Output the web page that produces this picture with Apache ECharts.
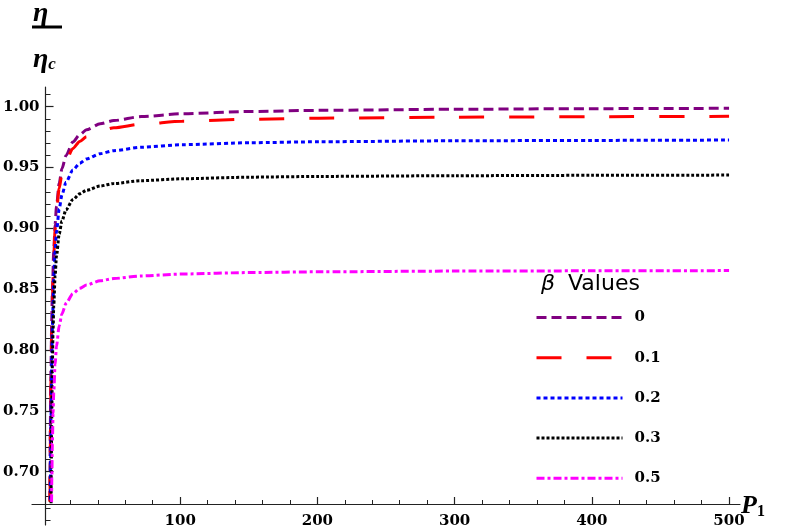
<!DOCTYPE html>
<html><head><meta charset="utf-8">
<script src="https://cdn.jsdelivr.net/npm/echarts@6/dist/echarts.min.js"></script>
<style>html,body{margin:0;padding:0;background:#fff}#c{width:789px;height:530px}</style>
</head><body><div id="c"></div>
<script>
const betaLabels = ['0', '0.1', '0.2', '0.3', '0.5'];

const p0 = [3.12, 3.3, 3.5, 3.8, 4, 4.5, 5, 6, 7, 8, 10, 12, 15, 20, 25, 30, 40, 50, 70, 100, 150, 200, 300, 400, 500];
const eta0 = [0.676, 0.708, 0.736, 0.770, 0.788, 0.823, 0.848, 0.881, 0.903, 0.918, 0.937, 0.949, 0.960, 0.971, 0.977, 0.981, 0.986, 0.9886, 0.9919, 0.9942, 0.9961, 0.9970, 0.9979, 0.9984, 0.9987];

const p1 = [3.27, 3.4, 3.6, 3.8, 4, 4.5, 5, 6, 7, 8, 10, 12, 15, 20, 25, 30, 40, 50, 70, 100, 150, 200, 300, 400, 500];
const eta1 = [0.675, 0.699, 0.730, 0.755, 0.776, 0.814, 0.842, 0.877, 0.899, 0.914, 0.933, 0.9445, 0.9554, 0.9657, 0.9715, 0.9753, 0.980, 0.9827, 0.9857, 0.9880, 0.9897, 0.9906, 0.9914, 0.9918, 0.9921];

const p2 = [3.55, 3.7, 4, 4.5, 5, 6, 7, 8, 10, 12, 15, 20, 25, 30, 40, 50, 70, 100, 150, 200, 300, 400, 500];
const eta2 = [0.677, 0.703, 0.7435, 0.7895, 0.820, 0.8585, 0.8815, 0.897, 0.916, 0.9275, 0.938, 0.948, 0.9535, 0.957, 0.9614, 0.9639, 0.9667, 0.9688, 0.9704, 0.9712, 0.9720, 0.9723, 0.9726];

const p3 = [4.05, 4.2, 4.5, 5, 5.5, 6, 7, 8, 10, 12, 15, 20, 25, 30, 40, 50, 70, 100, 150, 200, 300, 400, 500];
const eta3 = [0.674, 0.702, 0.743, 0.788, 0.816, 0.836, 0.861, 0.877, 0.8955, 0.906, 0.9153, 0.9237, 0.9284, 0.9313, 0.9348, 0.9369, 0.9392, 0.9408, 0.9421, 0.9427, 0.9433, 0.9436, 0.9438];

const p5 = [4.4, 4.6, 5, 5.5, 6, 7, 8, 10, 12, 15, 20, 25, 30, 40, 50, 70, 100, 150, 200, 300, 400, 500];
const eta5 = [0.675, 0.695, 0.7235, 0.748, 0.765, 0.788, 0.803, 0.820, 0.8296, 0.8384, 0.8463, 0.8507, 0.8535, 0.8569, 0.8588, 0.8609, 0.8625, 0.8637, 0.8643, 0.8649, 0.8651, 0.8653];

const xMajorTicks = [100, 200, 300, 400, 500];
const xMinorTicks = [20, 40, 60, 80, 120, 140, 160, 180, 220, 240, 260, 280, 320, 340, 360, 380, 420, 440, 460, 480];
const yMajorTicks = [0.70, 0.75, 0.80, 0.85, 0.90, 0.95, 1.00];
const yMinorTicks = [0.66, 0.67, 0.68, 0.69, 0.71, 0.72, 0.73, 0.74, 0.76, 0.77, 0.78, 0.79, 0.81, 0.82, 0.83, 0.84, 0.86, 0.87, 0.88, 0.89, 0.91, 0.92, 0.93, 0.94, 0.96, 0.97, 0.98, 0.99, 1.01];

const zip = (a, b) => a.map((v, i) => [v, b[i]]);
const seriesData = [zip(p0, eta0), zip(p1, eta1), zip(p2, eta2), zip(p3, eta3), zip(p5, eta5)];
const colors = ['#800080', '#ff0000', '#0000ff', '#000000', '#ff00ff'];
const dashes = [[10, 5], [25, 25], [4, 3], [3, 2], [8, 3, 3, 3]];

const chart = echarts.init(document.getElementById('c'), null, {renderer: 'canvas'});
const axisColor = '#222';
const labelFont = {fontFamily: 'DejaVu Serif', fontWeight: 'bold', fontSize: 15, color: '#000'};

const option = {
  backgroundColor: '#fff',
  animation: false,
  grid: [
    {left: 43, right: 49, top: 87, bottom: 5},
    {left: 32, right: 49, top: 87, bottom: 26}
  ],
  xAxis: [
    {gridIndex: 0, type: 'value', min: 0, max: 508, show: false},
    {gridIndex: 1, type: 'value', min: -8, max: 508, position: 'bottom',
      axisLine: {show: true, onZero: false, lineStyle: {color: axisColor, width: 1.2}},
      axisTick: {show: true, inside: true, length: 7, customValues: xMajorTicks, lineStyle: {color: axisColor, width: 1.2}},
      axisLabel: Object.assign({show: true, margin: 10, customValues: xMajorTicks}, labelFont),
      splitLine: {show: false}},
    {gridIndex: 1, type: 'value', min: -8, max: 508, position: 'bottom',
      axisLine: {show: false, onZero: false},
      axisTick: {show: true, inside: true, length: 4, customValues: xMinorTicks, lineStyle: {color: axisColor, width: 1}},
      axisLabel: {show: false}, splitLine: {show: false}}
  ],
  yAxis: [
    {gridIndex: 0, type: 'value', min: 0.6562, max: 1.0162, position: 'left',
      axisLine: {show: true, onZero: false, lineStyle: {color: axisColor, width: 1.2}},
      axisTick: {show: true, inside: true, length: 8, customValues: yMajorTicks, lineStyle: {color: axisColor, width: 1.2}},
      axisLabel: Object.assign({show: true, margin: 6, customValues: yMajorTicks, formatter: v => v.toFixed(2)}, labelFont),
      splitLine: {show: false}},
    {gridIndex: 0, type: 'value', min: 0.6562, max: 1.0162, position: 'left',
      axisLine: {show: false, onZero: false},
      axisTick: {show: true, inside: true, length: 5, customValues: yMinorTicks, lineStyle: {color: axisColor, width: 1}},
      axisLabel: {show: false}, splitLine: {show: false}},
    {gridIndex: 1, type: 'value', min: 0, max: 1, show: false}
  ],
  legend: {
    orient: 'vertical', left: 535, top: 310, padding: 0, itemWidth: 86, itemHeight: 16, itemGap: 25.2,
    itemStyle: {opacity: 0},
    lineStyle: {width: 3},
    textStyle: {fontFamily: 'DejaVu Serif', fontWeight: 'bold', fontSize: 15, color: '#000', padding: [0, 0, 0, 7]},
    data: betaLabels
  },
  series: seriesData.map((d, i) => ({
    name: betaLabels[i], type: 'line', xAxisIndex: 0, yAxisIndex: 0,
    data: d, symbol: 'none', showSymbol: false, smooth: 0.25, smoothMonotone: 'x',
    lineStyle: {color: colors[i], width: 3, type: dashes[i], cap: 'butt'},
    itemStyle: {color: colors[i]}
  })),
  graphic: [
    {type: 'text', left: 33, top: 0, style: {text: 'η', font: 'italic bold 28px "Liberation Serif"', fill: '#000'}},
    {type: 'line', shape: {x1: 32, y1: 27, x2: 62, y2: 27}, style: {stroke: '#000', lineWidth: 3}},
    {type: 'text', left: 33, top: 46, style: {text: '{a|η}{b|c}', rich: {
      a: {font: 'italic bold 28px "Liberation Serif"', fill: '#000'},
      b: {font: 'italic bold 17px "Liberation Serif"', fill: '#000', padding: [10, 0, 0, 0]}}}},
    {type: 'text', left: 741, top: 493, style: {text: '{a|P}{b|1}', rich: {
      a: {font: 'italic bold 26px "Liberation Serif"', fill: '#000'},
      b: {font: 'bold 16px "Liberation Serif"', fill: '#000', padding: [12, 0, 0, 0]}}}},
    {type: 'text', left: 541, top: 273, style: {text: 'β', font: 'italic 22px "DejaVu Sans"', fill: '#000'}},
    {type: 'text', left: 568, top: 273, style: {text: 'Values', font: '22px "DejaVu Sans"', fill: '#000'}}
  ]
};
chart.setOption(option);
</script>
</body></html>
